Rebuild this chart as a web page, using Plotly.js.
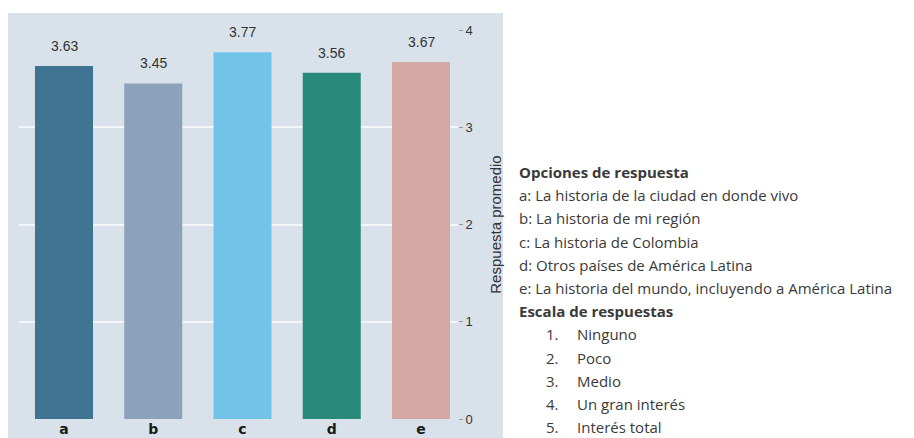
<!DOCTYPE html>
<html>
<head>
<meta charset="utf-8">
<script src="https://cdn.plot.ly/plotly-3.0.1.min.js"></script>
<style>html,body{margin:0;padding:0;background:#fff;}#chart{width:914px;height:438px;}</style>
</head>
<body>
<div id="chart"></div>
<script>
const categories = ["a", "b", "c", "d", "e"];
const values = [3.63, 3.45, 3.77, 3.56, 3.67];
const valueLabels = ["3.63", "3.45", "3.77", "3.56", "3.67"];
const barColors = ["#3e7391", "#8ca2ba", "#72c3e8", "#29897a", "#d3a7a2"];
const yTicks = [0, 1, 2, 3, 4];
const yTitle = "Respuesta promedio";
const optionsHeader = "Opciones de respuesta";
const optionLines = [
  "a: La historia de la ciudad en donde vivo",
  "b: La historia de mi región",
  "c: La historia de Colombia",
  "d: Otros países de América Latina",
  "e: La historia del mundo, incluyendo a América Latina"
];
const scaleHeader = "Escala de respuestas";
const scaleNumbers = ["1.", "2.", "3.", "4.", "5."];
const scaleLabels = ["Ninguno", "Poco", "Medio", "Un gran interés", "Interés total"];

const W = 914, H = 438;
const px = x => x / W;
const py = y => 1 - y / H;

const trace = {
  type: "bar",
  x: categories,
  y: values,
  marker: {color: barColors, line: {width: 0}},
  width: 0.65,
  hoverinfo: "skip"
};

const annotations = [];
// value labels above bars, positioned via data coordinates
categories.forEach((c, i) => {
  annotations.push({
    xref: "x", yref: "y", x: c, y: values[i],
    yanchor: "bottom", yshift: 10, showarrow: false,
    text: valueLabels[i],
    font: {family: "Liberation Sans, Arial, sans-serif", size: 14, color: "#333"}
  });
});

const lineY0 = 172, lineStep = 23.2;
const txtFont = {family: "Open Sans, sans-serif", size: 15, color: "#3a3a3a"};
let row = 0;
function addText(txt, x, font, bold) {
  annotations.push({
    xref: "paper", yref: "paper", x: px(x), y: py(lineY0 + row * lineStep),
    xanchor: "left", yanchor: "middle", showarrow: false,
    text: bold ? "<b>" + txt + "</b>" : txt, font: font
  });
}
addText(optionsHeader, 517, txtFont, true); row++;
optionLines.forEach(t => { addText(t, 517, txtFont, false); row++; });
addText(scaleHeader, 517, txtFont, true); row++;
scaleNumbers.forEach((n, i) => {
  addText(n, 544, txtFont, false);
  addText(scaleLabels[i], 575, txtFont, false);
  row++;
});

const xLeft = 19, xRight = 458, firstCenter = 64, step = 89.25;
const layout = {
  width: W, height: H,
  margin: {l: 0, r: 0, t: 0, b: 0, pad: 0},
  paper_bgcolor: "#ffffff",
  plot_bgcolor: "rgba(0,0,0,0)",
  showlegend: false,
  shapes: [{
    type: "rect", xref: "paper", yref: "paper", layer: "below",
    x0: px(8), x1: px(503), y0: py(438), y1: py(13),
    fillcolor: "#d9e2ea", line: {width: 0}
  }],
  xaxis: {
    domain: [px(xLeft), px(xRight)],
    type: "category",
    range: [-(firstCenter - xLeft) / step, (xRight - firstCenter) / step],
    showgrid: false, zeroline: false, showline: false,
    ticks: "",
    tickfont: {family: "DejaVu Sans, sans-serif", size: 14, color: "#1a1a1a", weight: "bold"},
    ticklabelstandoff: 0
  },
  yaxis: {
    domain: [py(419), py(30)],
    range: [0, 4],
    side: "right",
    tickvals: yTicks,
    ticktext: yTicks.map(String),
    showgrid: true, gridcolor: "#f4f6f8", gridwidth: 2,
    zeroline: false, showline: false,
    ticks: "outside", ticklen: 4, tickcolor: "#999",
    tickfont: {family: "Liberation Sans, Arial, sans-serif", size: 13, color: "#333"},
    title: {text: yTitle, standoff: 18, font: {family: "Liberation Sans, Arial, sans-serif", size: 15, color: "#333"}}
  },
  annotations: annotations
};

Plotly.newPlot("chart", [trace], layout, {staticPlot: true, displayModeBar: false});
</script>
</body>
</html>
